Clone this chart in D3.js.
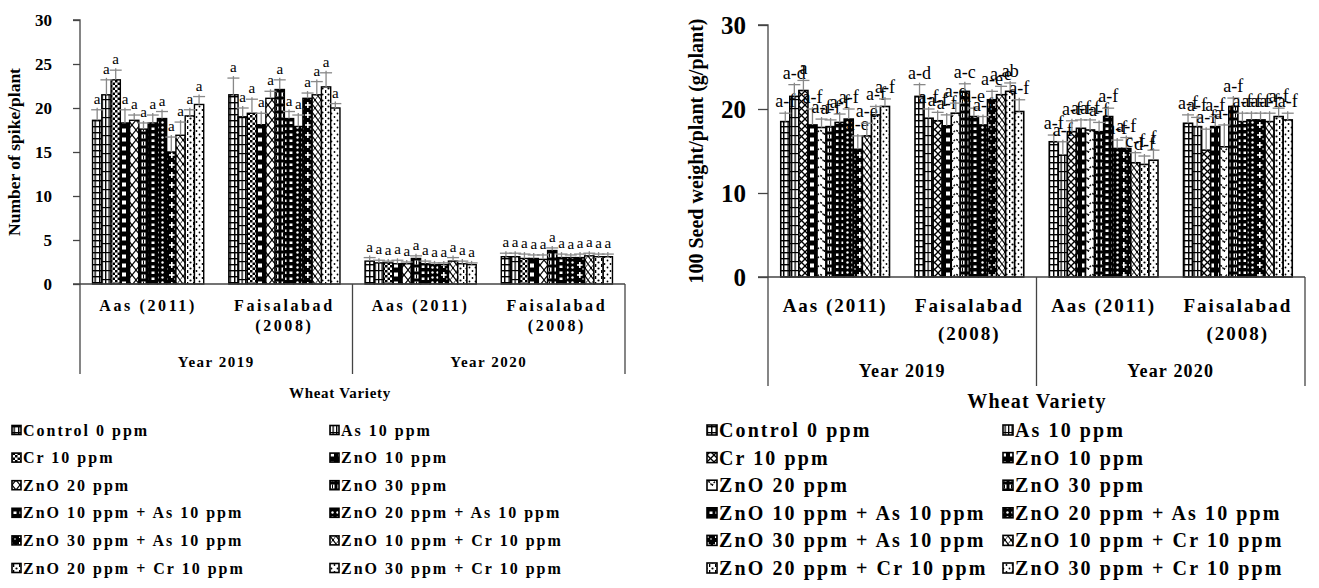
<!DOCTYPE html>
<html><head><meta charset="utf-8">
<script src="https://cdn.jsdelivr.net/npm/d3@7"></script>
<style>
body{margin:0;background:#fff;}
svg text{font-family:"Liberation Serif","Times New Roman",serif;fill:#000;}
</style></head><body>
<svg id="c" width="1319" height="588"></svg>
<script>
// ---------------- DATA ----------------
const treatments = ["Control 0 ppm","As 10 ppm","Cr 10 ppm","ZnO 10 ppm","ZnO 20 ppm","ZnO 30 ppm",
  "ZnO 10 ppm + As 10 ppm","ZnO 20 ppm + As 10 ppm","ZnO 30 ppm + As 10 ppm",
  "ZnO 10 ppm + Cr 10 ppm","ZnO 20 ppm + Cr 10 ppm","ZnO 30 ppm + Cr 10 ppm"];
const varietyLabels = [["Aas (2011)"],["Faisalabad","(2008)"]];
const yearLabels = ["Year 2019","Year 2020"];
const groupVariety = [0,1,0,1];
const groupYear = [0,0,1,1];

// Number of spike/plant
const spikeAas2019 = [18.6,21.5,23.2,18.3,18.6,17.6,18.3,18.8,15.0,16.9,19.1,20.4];
const spikeFsd2019 = [21.5,19.0,19.4,18.1,21.1,22.1,18.8,17.9,21.1,21.5,22.4,20.0];
const spikeAas2020 = [2.6,2.4,2.4,2.3,2.3,2.9,2.3,2.2,2.2,2.6,2.3,2.2];
const spikeFsd2020 = [3.1,3.1,2.9,2.9,2.8,3.8,3.0,3.0,3.0,3.2,3.1,3.1];
const spikeErrAas2019 = [1.2,1.7,1.1,1.5,0.6,0.7,0.9,0.8,1.7,1.5,0.7,0.9];
const spikeErrFsd2019 = [1.9,1.0,1.6,1.3,0.8,1.1,0.8,1.3,0.6,1.5,1.6,0.5];
const spikeErrAas2020 = [0.4,0.3,0.2,0.4,0.2,0.3,0.3,0.2,0.2,0.4,0.3,0.2];
const spikeErrFsd2020 = [0.4,0.4,0.5,0.4,0.5,0.3,0.4,0.3,0.4,0.3,0.3,0.3];
const spikeLetters = ["a","a","a","a","a","a","a","a","a","a","a","a"];
const spikeTicks = [0,5,10,15,20,25,30];

// 100 Seed weight/plant
const seedAas2019 = [18.5,21.5,22.2,18.1,17.8,17.9,18.4,18.8,15.2,16.8,19.3,20.3];
const seedFsd2019 = [21.5,18.9,18.6,18.0,19.5,22.1,19.1,18.1,21.1,21.7,22.1,19.7];
const seedAas2020 = [16.1,14.5,17.3,17.7,17.5,17.3,19.1,15.3,15.3,13.6,13.4,13.9];
const seedFsd2020 = [18.3,17.9,15.1,17.9,15.5,20.3,18.5,18.7,18.7,18.5,19.1,18.7];
const seedErrAas2019 = [1.0,1.4,1.2,1.9,1.0,0.8,1.0,1.2,1.6,1.5,1.0,0.9];
const seedErrFsd2019 = [1.4,1.1,1.0,1.3,1.2,0.9,1.0,1.0,1.0,1.0,1.0,1.4];
const seedErrAas2020 = [0.8,1.6,1.3,1.0,1.2,1.1,1.0,1.0,1.3,1.2,1.0,1.2];
const seedErrFsd2020 = [1.0,1.1,2.5,1.2,2.6,1.0,1.0,0.8,0.8,1.0,1.0,0.8];
const seedLettersAas2019 = ["a-f","a-d","a","a-f","a-f","a-f","a-f","a-f","a-e","a-e","a-f","a-f"];
const seedLettersFsd2019 = ["a-d","a-f","a-f","a-f","a-e","a-c","a-e","a-f","a-e","a-e","ab","a-f"];
const seedLettersAas2020 = ["a-f","a-f","a-f","a-f","a-f","a-f","a-f","a-f","a-f","c-f","d-f","f"];
const seedLettersFsd2020 = ["a-f","a-f","a-f","a-f","a-f","a-f","a-f","a-f","a-f","a-f","a-f","a-f"];
const seedTicks = [0,10,20,30];

// ---------------- DRAWING ----------------
const svg = d3.select("#c");
const defs = svg.append("defs");

function pat(id, w, h, bg, draw){
  const p = defs.append("pattern").attr("id",id).attr("patternUnits","userSpaceOnUse")
    .attr("width",w).attr("height",h);
  p.append("rect").attr("width",w).attr("height",h).attr("fill",bg);
  draw(p);
}
function R(p,x,y,w,h,c){p.append("rect").attr("x",x).attr("y",y).attr("width",w).attr("height",h).attr("fill",c||"#000");}
function L(p,x1,y1,x2,y2,sw){p.append("line").attr("x1",x1).attr("y1",y1).attr("x2",x2).attr("y2",y2).attr("stroke","#000").attr("stroke-width",sw||1.2);}
function C(p,cx,cy,r,c){p.append("circle").attr("cx",cx).attr("cy",cy).attr("r",r).attr("fill",c||"#000");}

function makePatterns(pre, alt){
  pat(pre+0,4.5,6,"#fff",p=>{R(p,0,0,1.4,6);R(p,0,0,4.5,1.4);});
  pat(pre+1,3.5,9,"#fff",p=>{R(p,0,0,1.3,9);R(p,0,0,3.5,1.2);});
  if(!alt) pat(pre+2,5,5,"#fff",p=>{R(p,0,0,2.5,2.5);R(p,2.5,2.5,2.5,2.5);});
  else pat(pre+2,7,7,"#fff",p=>{L(p,0,0,7,7,1.3);L(p,7,0,0,7,1.3);});
  pat(pre+3,8,9,"#000",p=>{R(p,2,2.5,4,4,"#fff");});
  if(!alt) pat(pre+4,8,10,"#fff",p=>{L(p,0,0,8,10,1.1);L(p,8,0,0,10,1.1);});
  else pat(pre+4,8,9,"#fff",p=>{p.append("path").attr("d","M0,9 Q4,0 8,9").attr("fill","none").attr("stroke","#000").attr("stroke-width",1.3).attr("stroke-dasharray","2,1.2");});
  pat(pre+5,7,7,"#000",p=>{R(p,1.5,1.5,4,4,"#fff");R(p,3,1.5,1,4,"#000");});
  pat(pre+6,6,6,"#000",p=>{R(p,1.5,1.5,3,2.5,"#fff");});
  pat(pre+7,5,5,"#000",p=>{C(p,2.5,2.5,1.2,"#fff");});
  pat(pre+8,8,10,"#000",p=>{R(p,3,2,1.6,6,"#fff");R(p,1,4.2,5.6,1.6,"#fff");C(p,7,9,0.8,"#fff");});
  pat(pre+9,6,8,"#fff",p=>{L(p,0,0,6,8,1.2);L(p,6,0,0,8,0.8);C(p,3,4,1);});
  pat(pre+10,6,6,"#fff",p=>{R(p,1,0,1.3,3);C(p,4.5,4.5,1.1);});
  pat(pre+11,6,7,"#fff",p=>{C(p,1.5,1.5,0.9);C(p,4.5,5,0.9);});
}
makePatterns("pa",false);
makePatterns("pb",true);

function drawPanel(cfg, series, errs, letters){
  const g = svg.append("g");
  const y = d3.scaleLinear().domain([0,30]).range([cfg.yBase,cfg.yTop]);
  const xOuter = d3.scaleBand().domain(d3.range(4)).range([cfg.x0,cfg.x1]).padding(0);
  const bw = xOuter.bandwidth();
  const xInner = d3.scaleBand().domain(d3.range(treatments.length))
    .range([bw*cfg.gap, bw*(1-cfg.gap)]).padding(0);

  const ya = g.append("g").attr("transform",`translate(${cfg.x0},0)`)
    .call(d3.axisLeft(y).tickValues(cfg.ticks).tickSize(cfg.tickSize).tickPadding(cfg.tickPad).tickFormat(d3.format("d")));
  ya.select(".domain").attr("stroke","#444").attr("stroke-width",1.3).attr("d",`M${-cfg.tickSize},${cfg.yTop}H0V${cfg.yBase}`);
  ya.selectAll(".tick line").attr("stroke","#444").attr("stroke-width",1.3);
  ya.selectAll(".tick text").attr("font-size",cfg.tickFont).attr("font-weight","bold")
    .attr("font-family","Liberation Serif").attr("fill","#000");

  g.append("text").attr("transform",`translate(${cfg.titleX},${(cfg.yTop+cfg.yBase)/2+cfg.titleDy}) rotate(-90)`)
    .attr("text-anchor","middle").attr("font-size",cfg.titleFont).attr("font-weight","bold")
    .attr("letter-spacing",cfg.titleLs).text(cfg.title);

  series.forEach((vals,gi)=>{
    const gx = xOuter(gi);
    vals.forEach((v,ti)=>{
      g.append("rect").attr("x",gx+xInner(ti)).attr("y",y(v))
        .attr("width",xInner.bandwidth()).attr("height",y(0)-y(v))
        .attr("fill",`url(#${cfg.pre}${ti})`).attr("stroke","#000").attr("stroke-width",cfg.barStroke);
    });
  });
  series.forEach((vals,gi)=>{
    const gx = xOuter(gi);
    vals.forEach((v,ti)=>{
      const cx = gx+xInner(ti)+xInner.bandwidth()/2;
      const top = y(v+errs[gi][ti]);
      g.append("line").attr("x1",cx).attr("x2",cx).attr("y1",y(v)).attr("y2",top-2)
        .attr("stroke","#888").attr("stroke-width",1.3);
      g.append("line").attr("x1",cx-cfg.cap).attr("x2",cx+cfg.cap).attr("y1",top).attr("y2",top)
        .attr("stroke","#888").attr("stroke-width",1.3);
      g.append("text").attr("x",cx).attr("y",top-cfg.labelGap).attr("text-anchor","middle")
        .attr("font-size",cfg.labelFont).text(letters[gi][ti]);
    });
  });

  g.append("line").attr("x1",cfg.x0-cfg.tickSize).attr("x2",cfg.x1).attr("y1",cfg.yBase).attr("y2",cfg.yBase)
    .attr("stroke","#444").attr("stroke-width",1.3);
  [cfg.x0, xOuter(2), cfg.x1].forEach(xx=>{
    g.append("line").attr("x1",xx).attr("x2",xx).attr("y1",cfg.yBase).attr("y2",cfg.lineBottom)
      .attr("stroke","#444").attr("stroke-width",1.3);
  });
  d3.range(4).forEach(gi=>{
    const cx = xOuter(gi)+bw/2;
    varietyLabels[groupVariety[gi]].forEach((t,li)=>{
      g.append("text").attr("x",cx).attr("y",cfg.catY+li*cfg.catDy).attr("text-anchor","middle")
        .attr("font-size",cfg.catFont).attr("font-weight","bold").attr("letter-spacing",cfg.catLs).text(t);
    });
  });
  yearLabels.forEach((t,yi)=>{
    const cx = xOuter(yi*2)+bw;
    g.append("text").attr("x",cx).attr("y",cfg.yearY).attr("text-anchor","middle")
      .attr("font-size",cfg.yearFont).attr("font-weight","bold").attr("letter-spacing",cfg.yearLs).text(t);
  });
  g.append("text").attr("x",cfg.wvX).attr("y",cfg.wvY).attr("text-anchor","middle")
    .attr("font-size",cfg.wvFont).attr("font-weight","bold").attr("letter-spacing",cfg.wvLs).text("Wheat Variety");

  treatments.forEach((t,ti)=>{
    const col = ti%2, row = Math.floor(ti/2);
    const lx = cfg.legX[col], ly = cfg.legY + row*cfg.legDy;
    g.append("rect").attr("x",lx).attr("y",ly-cfg.legBox/2).attr("width",cfg.legBox).attr("height",cfg.legBox)
      .attr("fill",`url(#${cfg.pre}${ti})`).attr("stroke","#000").attr("stroke-width",1.6);
    g.append("text").attr("x",lx+cfg.legBox+2).attr("y",ly).attr("dy","0.35em")
      .attr("font-size",cfg.legFont).attr("font-weight","bold").attr("letter-spacing",cfg.legLs).text(t);
  });
}

const leftCfg = {pre:"pa", x0:80, x1:625, yTop:20, yBase:284, ticks:spikeTicks, tickSize:7, tickPad:21, tickFont:17,
  title:"Number of spike/plant", titleX:20, titleDy:0, titleFont:17.5, titleLs:0,
  gap:0.092, barStroke:1.4, cap:6, labelGap:6, labelFont:15,
  lineBottom:374, catY:311, catDy:20, catFont:16, catLs:2.6, yearY:367, yearFont:15, yearLs:1.5,
  wvX:340, wvY:398, wvFont:15, wvLs:0.7,
  legX:[12,330], legY:430, legDy:27.6, legBox:9, legFont:16, legLs:2};
const rightCfg = {pre:"pb", x0:768, x1:1305, yTop:25, yBase:277, ticks:seedTicks, tickSize:10, tickPad:12, tickFont:25,
  title:"100 Seed weight/plant (g/plant)", titleX:703, titleDy:0, titleFont:20, titleLs:0,
  gap:0.095, barStroke:1.6, cap:6, labelGap:6, labelFont:18,
  lineBottom:386, catY:312, catDy:28, catFont:19, catLs:2, yearY:377, yearFont:18, yearLs:1.2,
  wvX:1037, wvY:408, wvFont:20, wvLs:1.2,
  legX:[707,1003], legY:430, legDy:27.6, legBox:10, legFont:20, legLs:2.1};

drawPanel(leftCfg,
  [spikeAas2019, spikeFsd2019, spikeAas2020, spikeFsd2020],
  [spikeErrAas2019, spikeErrFsd2019, spikeErrAas2020, spikeErrFsd2020],
  [spikeLetters, spikeLetters, spikeLetters, spikeLetters]);
drawPanel(rightCfg,
  [seedAas2019, seedFsd2019, seedAas2020, seedFsd2020],
  [seedErrAas2019, seedErrFsd2019, seedErrAas2020, seedErrFsd2020],
  [seedLettersAas2019, seedLettersFsd2019, seedLettersAas2020, seedLettersFsd2020]);
</script>
</body></html>
